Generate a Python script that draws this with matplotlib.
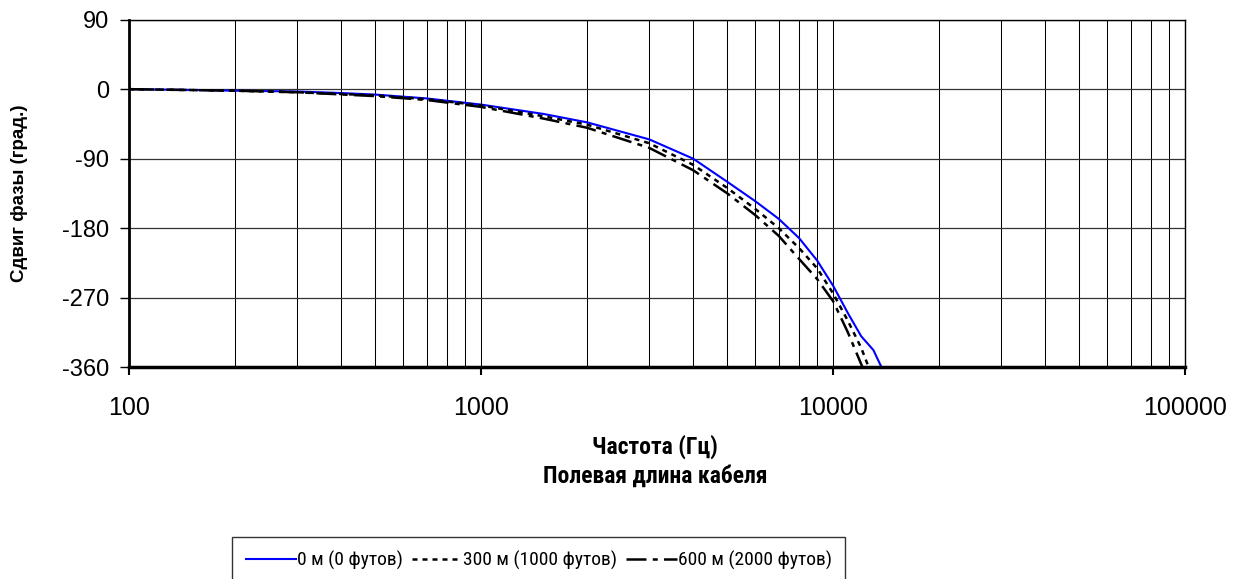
import matplotlib
matplotlib.use("Agg")
import matplotlib.pyplot as plt
from matplotlib import font_manager
from matplotlib.ticker import FixedLocator, NullFormatter

plt.rcParams['font.family'] = ['Liberation Sans', 'DejaVu Sans']
plt.rcParams['axes.unicode_minus'] = False

# condensed face if one is installed, else plain Arial-like text a bit smaller
names = {f.name for f in font_manager.fontManager.ttflist}
cond = [n for n in ['Liberation Sans Narrow', 'Roboto Condensed', 'Open Sans Condensed']
        if n in names]
if cond:
    narrow = [cond[0], 'Liberation Sans', 'DejaVu Sans']
    lab_size, leg_size, hlen = 17, 14, 2.6
else:
    narrow = ['Liberation Sans', 'DejaVu Sans']
    lab_size, leg_size, hlen = 14, 12, 3.2

# 0 m (0 футов)
f0 = [100, 150, 200, 300, 400, 500, 700, 1000, 1500, 2000, 3000, 4000, 5000,
      6000, 7000, 8000, 9000, 10000, 11000, 12000, 13000, 13700]
p0 = [0, -1, -2, -3, -5, -7, -12, -20, -32, -43, -65, -90, -120,
      -145, -168, -193, -222, -255, -290, -320, -338, -360]

# 300 м (1000 футов)
f300 = [100, 200, 300, 500, 700, 1000, 1500, 2000, 3000, 4000, 5000, 6000,
        7000, 8000, 9000, 10000, 11000, 12000, 12600]
p300 = [0, -2, -4, -8, -13, -21, -35, -46, -70, -98, -128, -155,
        -180, -206, -232, -265, -300, -335, -360]

# 600 м (2000 футов)
f600 = [100, 200, 300, 500, 700, 1000, 1500, 2000, 3000, 4000, 5000, 6000,
        7000, 8000, 9000, 10000, 11000, 12100]
p600 = [0, -2, -4, -9, -14, -23, -38, -50, -76, -105, -135, -163,
        -190, -220, -246, -275, -315, -360]

labels = ["0 м (0 футов)", "300 м (1000 футов)", "600 м (2000 футов)"]
y_ticks = [90, 0, -90, -180, -270, -360]
x_ticks = [100, 1000, 10000, 100000]

fig = plt.figure(figsize=(12.4, 5.79), dpi=100)
ax = fig.add_axes([0.104, 0.366, 0.852, 0.6])

ax.plot(f0, p0, color="#0000ff", lw=1.5, label=labels[0])
ax.plot(f300, p300, color="black", lw=1.8, ls=(0, (2, 2)), label=labels[1])
ax.plot(f600, p600, color="black", lw=1.8, ls=(0, (8, 2.5, 2, 2.5)), label=labels[2])

ax.set_xscale("log")
ax.set_xlim(100, 100000)
ax.set_ylim(-360, 90)
ax.set_yticks(y_ticks)
ax.xaxis.set_major_locator(FixedLocator(x_ticks))
ax.set_xticklabels([str(t) for t in x_ticks])
minors = [m * 10 ** e for e in range(2, 5) for m in range(2, 10)]
ax.xaxis.set_minor_locator(FixedLocator(minors))
ax.xaxis.set_minor_formatter(NullFormatter())

ax.grid(True, which="both", axis="x", color="black", lw=0.75)
ax.grid(True, which="major", axis="y", color="#333333", lw=0.9)

ax.tick_params(axis="x", which="major", length=6, width=1.5, direction="out",
               pad=15, labelsize=18)
ax.tick_params(axis="x", which="minor", length=0)
ax.tick_params(axis="y", length=6.5, width=1, direction="out", pad=8, labelsize=17)

ax.spines["left"].set_linewidth(2)
ax.spines["bottom"].set_linewidth(2.5)
for s in ["top", "right"]:
    ax.spines[s].set_linewidth(1)

fig.text(20 / 1240, 1 - 193 / 579, "Сдвиг фазы (град.)", rotation=90,
         ha="center", va="center", fontsize=13.5, fontweight="bold")
fig.text(655 / 1240, 1 - 447 / 579, "Частота (Гц)", ha="center", va="center",
         fontsize=lab_size, fontweight="bold", family=narrow)
fig.text(655 / 1240, 1 - 476 / 579, "Полевая длина кабеля", ha="center",
         va="center", fontsize=lab_size, fontweight="bold", family=narrow)

leg = fig.legend(loc="upper left", bbox_to_anchor=(232 / 1240, 1 - 537 / 579),
                 ncol=3, prop={"family": narrow, "size": leg_size}, frameon=True,
                 fancybox=False, edgecolor="black", handlelength=hlen,
                 handletextpad=0.05, columnspacing=0.45, borderpad=0.7,
                 borderaxespad=0)
leg.get_frame().set_linewidth(1)

fig.savefig("out.png", dpi=100)
